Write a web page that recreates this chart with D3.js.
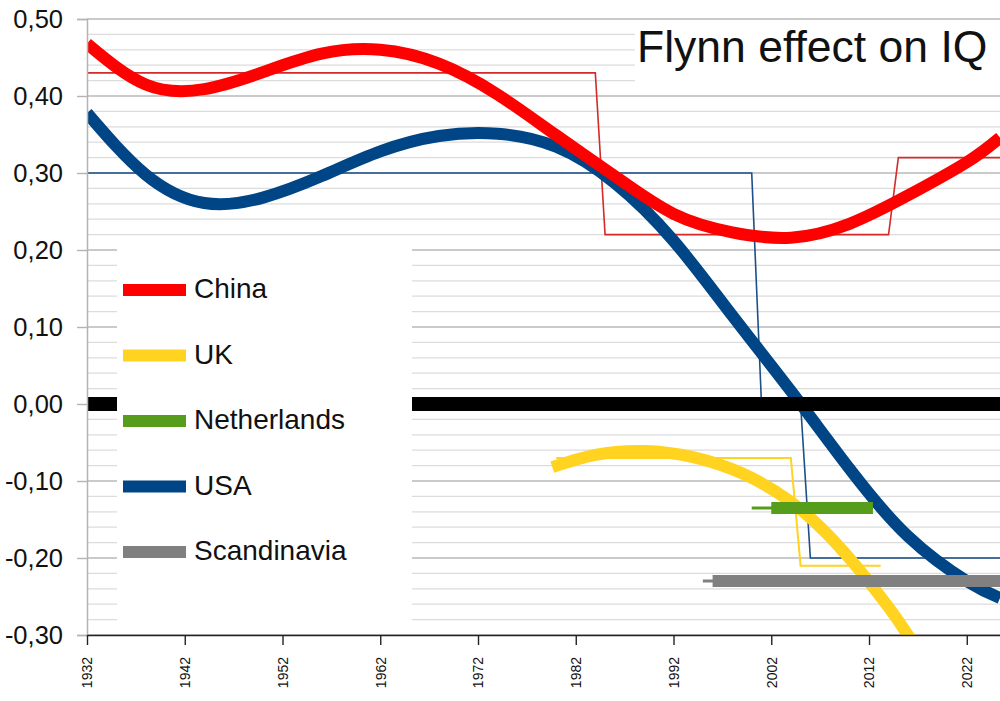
<!DOCTYPE html>
<html>
<head>
<meta charset="utf-8">
<script src="https://cdn.jsdelivr.net/npm/d3@7"></script>
<style>
  html, body { margin: 0; padding: 0; background: #fff; }
  svg { display: block; font-family: "Liberation Sans", Arial, sans-serif; }
</style>
</head>
<body>
<svg id="chart" width="1000" height="701"></svg>
<script>
// ---------- data ----------
const xTicks = [1932, 1942, 1952, 1962, 1972, 1982, 1992, 2002, 2012, 2022];
const yTicks = [-0.3, -0.2, -0.1, 0, 0.1, 0.2, 0.3, 0.4, 0.5];
const yMinorStep = 0.02;

const seriesNames  = ["China", "UK", "Netherlands", "USA", "Scandinavia"];
const seriesColors = ["#ff0000", "#ffd320", "#579d1c", "#004586", "#808080"];

// thick smoothed trend curves [year, value]
const chinaTrend = [
  [1932, 0.468], [1938, 0.415], [1944, 0.409], [1950, 0.431], [1956, 0.455],
  [1962, 0.460], [1968, 0.442], [1974, 0.402], [1980, 0.349], [1986, 0.296],
  [1992, 0.247], [1998, 0.223], [2004, 0.216], [2010, 0.234], [2016, 0.271],
  [2022, 0.314], [2025.4, 0.346]
];
const usaTrend = [
  [1932, 0.378], [1938, 0.298], [1944, 0.261], [1950, 0.268], [1956, 0.296],
  [1962, 0.328], [1968, 0.348], [1974, 0.351], [1980, 0.334], [1986, 0.287],
  [1992, 0.212], [1998, 0.115], [2004, 0.017], [2010, -0.084], [2016, -0.172],
  [2022, -0.230], [2025.4, -0.252]
];
const ukTrend = [
  [1979.6, -0.082], [1984, -0.066], [1989, -0.061], [1994, -0.069], [1999, -0.090],
  [2004, -0.127], [2009, -0.186], [2014, -0.264], [2017, -0.320]
];

// thin step lines (period values)
const chinaSteps = [[1932, 0.43], [1984, 0.43], [1985, 0.22], [2014, 0.22], [2015, 0.32], [2025.4, 0.32]];
const usaSteps   = [[1932, 0.30], [2000, 0.30], [2001, 0.00], [2005, 0.00], [2006, -0.20], [2025.4, -0.20]];
const ukSteps    = [[1980, -0.07], [2004, -0.07], [2005, -0.21], [2013.2, -0.21]];

// flat study ranges: thin span and thick span
const nlThin    = [[2000, -0.135], [2012.4, -0.135]];
const nlThick   = [[2002, -0.135], [2012.4, -0.135]];
const scanThin  = [[1995, -0.23], [2025.4, -0.23]];
const scanThick = [[1996, -0.23], [2025.4, -0.23]];

const zeroLine = [[1932, 0], [2025.4, 0]];
const titleText = "Flynn effect on IQ";

// ---------- layout ----------
const svg = d3.select("#chart");
const mLeft = 87, mRight = 1000, mTop = 19, mBottom = 635;
const x = d3.scaleLinear().domain([1932, 2025.4]).range([mLeft, mRight]);
const y = d3.scaleLinear().domain([-0.3, 0.5]).range([mBottom, mTop]);

const locale = d3.formatLocale({decimal: ",", thousands: ".", grouping: [3], currency: ["", ""], minus: "-"});
const yFmt = locale.format(".2f");

svg.append("defs").append("clipPath").attr("id", "plotclip")
  .append("rect").attr("x", mLeft).attr("y", mTop - 2).attr("width", mRight - mLeft).attr("height", mBottom - mTop + 2);

// minor gridlines
const minorVals = d3.range(Math.round(-0.3 / yMinorStep), Math.round(0.5 / yMinorStep) + 1)
  .map(i => +(i * yMinorStep).toFixed(2))
  .filter(v => !yTicks.some(t => Math.abs(t - v) < 1e-6));
svg.append("g").selectAll("line").data(minorVals).join("line")
  .attr("x1", mLeft).attr("x2", mRight)
  .attr("y1", d => y(d)).attr("y2", d => y(d))
  .attr("stroke", "#dcdcdc").attr("stroke-width", 1.2);
// major gridlines
svg.append("g").selectAll("line").data(yTicks).join("line")
  .attr("x1", mLeft).attr("x2", mRight)
  .attr("y1", d => y(d)).attr("y2", d => y(d))
  .attr("stroke", "#b8b8b8").attr("stroke-width", 1.4);

const plot = svg.append("g").attr("clip-path", "url(#plotclip)");
const line = d3.line().x(d => x(d[0])).y(d => y(d[1]));
const smooth = d3.line().x(d => x(d[0])).y(d => y(d[1])).curve(d3.curveNatural);

function thin(data, color, w) {
  plot.append("path").datum(data).attr("d", line)
    .attr("fill", "none").attr("stroke", color).attr("stroke-width", w || 1.5);
}
function thick(data, color, gen) {
  plot.append("path").datum(data).attr("d", gen || line)
    .attr("fill", "none").attr("stroke", color).attr("stroke-width", 12)
    .attr("stroke-linecap", "butt").attr("stroke-linejoin", "round");
}

thin(chinaSteps, "#d42a2a", 1.6);
thin(usaSteps, "#1d4f8a", 1.6);
thin(ukSteps, seriesColors[1], 2);

thick(ukTrend, seriesColors[1], smooth);
thick(usaTrend, seriesColors[3], smooth);
thick(chinaTrend, seriesColors[0], smooth);

thin(nlThin, seriesColors[2], 3);
thick(nlThick, seriesColors[2]);
thin(scanThin, seriesColors[4], 3);
thick(scanThick, seriesColors[4]);

plot.append("path").datum(zeroLine).attr("d", line)
  .attr("fill", "none").attr("stroke", "#000").attr("stroke-width", 14);

// ---------- axes ----------
const yAxis = svg.append("g").attr("transform", `translate(${mLeft},0)`)
  .call(d3.axisLeft(y).tickValues(yTicks).tickSize(10).tickPadding(14).tickFormat(yFmt));
yAxis.select(".domain").attr("stroke", "#b3b3b3").attr("stroke-width", 1.5);
yAxis.selectAll(".tick line").attr("stroke", "#b3b3b3").attr("stroke-width", 1.4);
yAxis.selectAll(".tick text").attr("fill", "#111").style("font-size", "25.5px")
  .style("font-family", "'Liberation Sans', Arial, sans-serif");

const xAxis = svg.append("g").attr("transform", `translate(0,${mBottom})`)
  .call(d3.axisBottom(x).tickValues(xTicks).tickSize(10).tickSizeOuter(0).tickFormat(d3.format("d")));
xAxis.select(".domain").attr("stroke", "#222").attr("stroke-width", 1.6);
xAxis.selectAll(".tick line").attr("stroke", "#222").attr("stroke-width", 1.4);
xAxis.selectAll(".tick text")
  .attr("transform", "rotate(-90)")
  .attr("x", -22).attr("y", 0).attr("dy", "0.35em")
  .attr("text-anchor", "end")
  .attr("fill", "#111").style("font-size", "14px")
  .style("font-family", "'Liberation Sans', Arial, sans-serif");

// ---------- legend ----------
const lg = svg.append("g");
lg.append("rect").attr("x", 117).attr("y", 237).attr("width", 295).attr("height", 396).attr("fill", "#fff");
const items = lg.selectAll("g.item").data(seriesNames).join("g").attr("class", "item")
  .attr("transform", (d, i) => `translate(123,${290 + i * 65.5})`);
items.append("rect").attr("x", 0).attr("y", -6).attr("width", 63).attr("height", 12)
  .attr("fill", (d, i) => seriesColors[i]);
items.append("text").attr("x", 71).attr("y", 8).text(d => d)
  .attr("fill", "#111").style("font-size", "28px");

// ---------- title ----------
svg.append("rect").attr("x", 635).attr("y", 20).attr("width", 365).attr("height", 70).attr("fill", "#fff");
svg.append("text").attr("x", 637).attr("y", 62).text(titleText)
  .attr("fill", "#111").style("font-size", "44.5px");
</script>
</body>
</html>
